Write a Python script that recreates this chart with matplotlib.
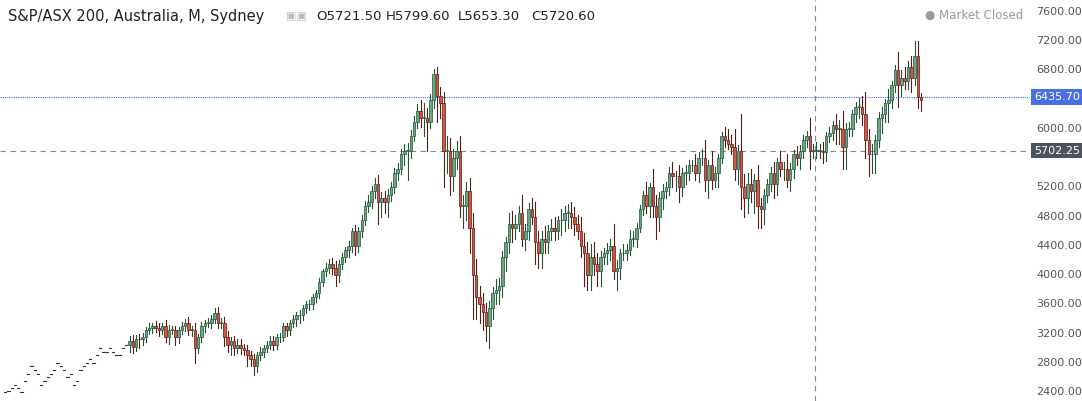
import numpy as np
import matplotlib
matplotlib.use("Agg")
import matplotlib.pyplot as plt
from matplotlib.patches import Rectangle

# monthly closes, Nov 1996 .. Mar 2020
flat_closes = [2400, 2420,
    2450, 2500, 2450, 2400, 2550, 2650, 2750, 2700, 2650, 2500, 2550, 2600,
    2650, 2700, 2800, 2750, 2700, 2600, 2650, 2500, 2550, 2700, 2750, 2800,
    2850, 2800, 2900, 3000, 2950, 2950, 3000, 2950, 2900, 2900, 3000, 3050]
closes = [
    3100, 3020, 3130, 3120, 3150, 3250, 3280, 3300, 3280, 3250, 3300, 3150,
    3250, 3250, 3150, 3250, 3300, 3350, 3250, 3250, 3000, 3150, 3300, 3350,
    3350, 3400, 3480, 3350, 3350, 3150, 3050, 3100, 3000, 3050, 3000, 2970,
    2900, 2850, 2750, 2900, 2950, 3000, 3050, 3100, 3050, 3150, 3150, 3300,
    3250, 3350, 3400, 3450, 3450, 3550, 3600, 3600, 3700, 3750, 3900, 4050,
    4100, 4150, 4100, 4000, 4150, 4250, 4350, 4400, 4600, 4400, 4600, 4750,
    4950, 5000, 5150, 5250, 5000, 5050, 5000, 5100, 5200, 5400, 5450, 5650,
    5700, 5700, 5900, 6100, 6250, 6150, 6150, 6100, 6400, 6750, 6450, 6350,
    5700, 5700, 5350, 5600, 5700, 4950, 4950, 5150, 4650, 4000, 3700, 3600,
    3500, 3300, 3550, 3750, 3800, 3850, 4250, 4450, 4700, 4650, 4700, 4850,
    4500, 4600, 4900, 4800, 4450, 4300, 4500, 4450, 4600, 4650, 4600, 4750,
    4750, 4850, 4850, 4800, 4700, 4600, 4400, 4300, 4000, 4250, 4150, 4050,
    4250, 4300, 4350, 4400, 4050, 4100, 4300, 4300, 4350, 4500, 4500, 4650,
    4900, 5100, 4950, 5200, 4950, 4800, 5050, 5150, 5200, 5400, 5350, 5350,
    5200, 5400, 5400, 5500, 5500, 5400, 5600, 5600, 5300, 5500, 5300, 5400,
    5600, 5900, 5850, 5800, 5750, 5450, 5700, 5200, 5050, 5250, 5150, 5300,
    4950, 4900, 5100, 5250, 5400, 5250, 5550, 5450, 5450, 5300, 5450, 5650,
    5600, 5700, 5850, 5900, 5700, 5700, 5700, 5700, 5680, 5900, 5950, 6050,
    6000, 6000, 5750, 6000, 6000, 6200, 6300, 6300, 6200, 5850, 5650, 5650,
    5850, 6150, 6200, 6350, 6400, 6600, 6800, 6600, 6700, 6650, 6850, 6700,
    7000, 6441, 6400]
wick_up = [
    60, 80, 50, 70, 60, 40, 60, 50, 70, 60, 40, 80,
    70, 50, 60, 40, 60, 50, 80, 60, 90, 50, 60, 40,
    60, 50, 70, 80, 60, 70, 90, 50, 60, 80, 70, 60,
    80, 60, 70, 50, 60, 40, 50, 60, 70, 50, 60, 40,
    50, 40, 60, 50, 70, 40, 50, 60, 40, 50, 60, 40,
    60, 70, 80, 90, 60, 50, 40, 70, 50, 90, 60, 70,
    60, 90, 70, 80, 120, 90, 100, 80, 70, 60, 90, 70,
    90, 110, 80, 70, 90, 150, 200, 130, 80, 70, 100, 120,
    150, 200, 180, 120, 130, 200, 150, 120, 180, 200, 220, 150,
    150, 120, 100, 90, 150, 110, 80, 70, 150, 180, 120, 100,
    250, 100, 80, 150, 200, 150, 100, 170, 80, 120, 150, 60,
    150, 100, 120, 150, 130, 120, 200, 180, 150, 180, 200, 150,
    80, 70, 90, 100, 300, 100, 60, 120, 80, 120, 100, 60,
    60, 50, 180, 60, 250, 150, 80, 100, 70, 80, 150, 80,
    150, 60, 100, 80, 70, 150, 80, 130, 250, 70, 200, 80,
    50, 60, 130, 150, 120, 250, 80, 500, 180, 150, 200, 80,
    200, 100, 80, 70, 80, 150, 50, 150, 100, 200, 80, 60,
    120, 80, 60, 70, 250, 100, 120, 100, 120, 60, 80, 60,
    150, 120, 250, 80, 100, 60, 70, 120, 150, 300, 150, 150,
    60, 80, 100, 60, 150, 60, 80, 250, 100, 150, 80, 150,
    200, 200, 50]
wick_dn = [
    100, 80, 60, 120, 70, 60, 50, 70, 60, 80, 60, 70,
    90, 60, 100, 80, 50, 60, 70, 80, 200, 70, 60, 80,
    60, 70, 50, 80, 70, 120, 100, 150, 90, 70, 80, 60,
    150, 100, 120, 80, 60, 70, 50, 60, 80, 60, 70, 50,
    80, 70, 60, 90, 100, 60, 70, 80, 60, 70, 60, 50,
    60, 70, 80, 150, 90, 60, 70, 100, 80, 120, 90, 80,
    70, 90, 80, 100, 300, 200, 150, 200, 90, 80, 100, 70,
    150, 400, 100, 70, 90, 120, 250, 400, 90, 120, 350, 200,
    500, 300, 250, 200, 150, 150, 300, 200, 350, 600, 300, 250,
    250, 200, 300, 150, 150, 200, 150, 200, 150, 200, 150, 100,
    100, 150, 120, 100, 300, 200, 200, 150, 150, 120, 120, 100,
    200, 150, 200, 150, 150, 100, 150, 450, 200, 200, 150, 200,
    200, 100, 150, 150, 100, 250, 150, 100, 100, 80, 100, 120,
    60, 80, 100, 150, 150, 300, 200, 150, 100, 100, 150, 200,
    200, 120, 150, 100, 80, 100, 120, 100, 150, 250, 120, 100,
    200, 60, 100, 80, 100, 150, 200, 300, 250, 200, 150, 300,
    300, 250, 200, 100, 100, 200, 150, 100, 150, 100, 150, 120,
    100, 150, 100, 100, 250, 100, 100, 100, 150, 120, 80, 100,
    200, 200, 300, 300, 100, 100, 100, 150, 150, 250, 300, 250,
    250, 100, 200, 100, 250, 120, 100, 300, 150, 100, 100, 200,
    100, 150, 150]
price_line = 6435.70
cross_price = 5702.25
cross_month = 210  # months after Jan 2000
yticks = list(range(2400, 7601, 400))
header_title = "S&P/ASX 200, Australia, M, Sydney"
header_ohlc = [("O", "5721.50"), ("H", "5799.60"), ("L", "5653.30"), ("C", "5720.60")]

W, H = 1082, 401
fig = plt.figure(figsize=(W / 100, H / 100), dpi=100)
ax = fig.add_axes([0, 0, 1030 / W, 1])
ax.set_xlim(-1.6, 313.3)
ax.set_ylim(2277, 7764)
for s in ax.spines.values():
    s.set_visible(False)
ax.set_xticks([])
ax.set_yticks([])

up_body, up_edge = '#6ba583', '#225437'
dn_body, dn_edge = '#d75442', '#5b1a13'

# flat dashes before 2000
for i, c in enumerate(flat_closes):
    ax.plot([i - 0.35, i + 0.35], [c, c], color='#333333', lw=0.8)

prev = flat_closes[-1]
off = len(flat_closes)
for k, c in enumerate(closes):
    i = off + k
    o = prev
    hi = max(o, c) + wick_up[k]
    lo = min(o, c) - wick_dn[k]
    up = c >= o
    ax.plot([i, i], [lo, hi], color=up_edge if up else dn_edge, lw=0.8, zorder=2)
    ax.add_patch(Rectangle((i - 0.38, min(o, c)), 0.76, max(abs(c - o), 8),
                           facecolor=up_body if up else dn_body,
                           edgecolor=up_edge if up else dn_edge, lw=0.5, zorder=3))
    prev = c

ax.axhline(price_line, color='#4a6fe3', lw=0.8, ls=(0, (1, 1)), zorder=1)
ax.axhline(cross_price, color='#888888', lw=0.8, ls=(0, (5, 4)), zorder=1)
ax.axvline(off + cross_month - 0.5, color='#888888', lw=0.8, ls=(0, (5, 4)), zorder=1)

# right price axis (ticks hidden under the price labels are skipped)
for v in yticks:
    if abs(v - price_line) < 120 or abs(v - cross_price) < 120:
        continue
    fig.text(1036 / W, ax.transData.transform((0, v))[1] / H, "%.2f" % v,
             fontsize=8, color='#555555', va='center', ha='left')


def label(v, bg):
    y = ax.transData.transform((0, v))[1] / H
    fig.text(1034 / W, y, "%.2f" % v, fontsize=8, color='white', va='center', ha='left',
             bbox=dict(boxstyle='square,pad=0.25', fc=bg, ec='none'))


label(price_line, '#4a6fe3')
label(cross_price, '#4c525e')

fig.text(8 / W, 1 - 16 / H, header_title, fontsize=10.5, color='#222222', va='center')
fig.text(286 / W, 1 - 16 / H, "\u25a3\u25a3", fontsize=8, color='#bbbbbb', va='center')
for (k, v), x in zip(header_ohlc, [316, 386, 458, 531]):
    fig.text(x / W, 1 - 16 / H, k + v, fontsize=9.5, color='#222222', va='center')
fig.text(1023 / W, 1 - 15 / H, "\u25cf Market Closed", fontsize=8.5, color='#999999',
         va='center', ha='right')

fig.savefig("out.png", dpi=100)
